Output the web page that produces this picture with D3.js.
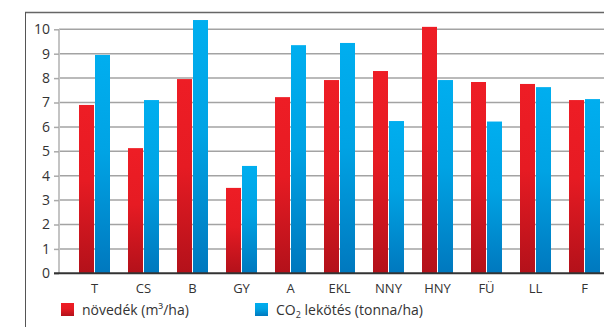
<!DOCTYPE html>
<html>
<head>
<meta charset="utf-8">
<script src="https://cdn.jsdelivr.net/npm/d3@7"></script>
<style>
  html, body { margin: 0; padding: 0; background: #fff; }
  svg { display: block; font-family: "Open Sans", "Noto Sans", sans-serif; }
</style>
</head>
<body>
<div id="chart"></div>
<script>
'use strict';

// ─── Data ────────────────────────────────────────────────────────────────────
const categories = ['T', 'CS', 'B', 'GY', 'A', 'EKL', 'NNY', 'HNY', 'FÜ', 'LL', 'F'];
const novedek    = [6.9, 5.13, 7.96, 3.5, 7.22, 7.92, 8.29, 10.1, 7.84, 7.76, 7.1];
const co2        = [8.95, 7.1, 10.38, 4.4, 9.35, 9.44, 6.24, 7.92, 6.22, 7.63, 7.14];
const yTicks     = [0, 1, 2, 3, 4, 5, 6, 7, 8, 9, 10];

// ─── Layout ──────────────────────────────────────────────────────────────────
const W = 604, H = 327;
const AXIS_X = 59;
const Y0 = 273.3, Y10 = 29.3;

const svg = d3.select('#chart').append('svg')
  .attr('width', W).attr('height', H);

const defs = svg.append('defs');
function grad(id, stops) {
  const g = defs.append('linearGradient').attr('id', id)
    .attr('x1', 0).attr('y1', 0).attr('x2', 0).attr('y2', 1);
  stops.forEach(([o, c]) => g.append('stop').attr('offset', o).attr('stop-color', c));
}
grad('gRed',  [[0, '#ee1d25'], [0.45, '#e61b23'], [1, '#b3111a']]);
grad('gBlue', [[0, '#00aeef'], [0.45, '#00a3e4'], [1, '#0078be']]);

// frame
svg.append('line').attr('x1', 25).attr('x2', W).attr('y1', 12.5).attr('y2', 12.5)
  .attr('stroke', '#666').attr('stroke-width', 1.6);
svg.append('line').attr('x1', 25.5).attr('x2', 25.5).attr('y1', 12).attr('y2', H)
  .attr('stroke', '#555').attr('stroke-width', 1);

// scales
const x = d3.scaleBand().domain(categories).range([70, 70 + 49 * categories.length]);
const y = d3.scaleLinear().domain([0, 10]).range([Y0, Y10]);

// grid lines
svg.append('g').selectAll('line').data(yTicks.filter(t => t > 0)).join('line')
  .attr('x1', AXIS_X).attr('x2', W)
  .attr('y1', d => y(d)).attr('y2', d => y(d))
  .attr('stroke', '#a3a3a3').attr('stroke-width', 1.5);

// y axis
const yAxis = svg.append('g').attr('transform', `translate(${AXIS_X},0)`)
  .call(d3.axisLeft(y).tickValues(yTicks).tickSize(5).tickPadding(4));
yAxis.select('.domain').attr('stroke', '#c4c4c4').attr('stroke-width', 2)
  .attr('d', `M0,${Y10}V${Y0}`);
yAxis.selectAll('.tick line').attr('stroke', '#aaa').attr('stroke-width', 1.5);
yAxis.selectAll('.tick text').attr('font-size', 14).attr('fill', '#333')
  .attr('font-family', '"Open Sans", "Noto Sans", sans-serif');

// bars
const BW = 15, GAP = 1;
const groups = svg.append('g').selectAll('g').data(categories).join('g')
  .attr('transform', d => `translate(${x(d) + x.bandwidth() / 2},0)`);
groups.append('rect')
  .attr('x', -BW - GAP / 2).attr('width', BW)
  .attr('y', (d, i) => y(novedek[i])).attr('height', (d, i) => Y0 - y(novedek[i]))
  .attr('fill', 'url(#gRed)');
groups.append('rect')
  .attr('x', GAP / 2).attr('width', BW)
  .attr('y', (d, i) => y(co2[i])).attr('height', (d, i) => Y0 - y(co2[i]))
  .attr('fill', 'url(#gBlue)');

// x axis
const xAxis = svg.append('g').attr('transform', `translate(0,${Y0})`)
  .call(d3.axisBottom(x).tickSize(0).tickPadding(10));
xAxis.select('.domain').attr('stroke', '#333').attr('stroke-width', 2)
  .attr('d', `M54,0H${W}`);
xAxis.selectAll('.tick text').attr('font-size', 13).attr('fill', '#333')
  .attr('font-family', '"Open Sans", "Noto Sans", sans-serif');

// legend
const legend = svg.append('g').attr('font-size', 14).attr('fill', '#333');
const l1 = legend.append('g').attr('transform', 'translate(61,303)');
l1.append('rect').attr('width', 13).attr('height', 13).attr('fill', 'url(#gRed)');
const t1 = l1.append('text').attr('x', 21).attr('y', 11.5);
t1.append('tspan').text('növedék (m³/ha)');

const l2 = legend.append('g').attr('transform', 'translate(255,303)');
l2.append('rect').attr('width', 13).attr('height', 13).attr('fill', 'url(#gBlue)');
const t2 = l2.append('text').attr('x', 21).attr('y', 11.5);
t2.append('tspan').text('CO');
t2.append('tspan').attr('font-size', 9).attr('dy', 3).text('2');
t2.append('tspan').attr('dy', -3).text(' lekötés (tonna/ha)');
</script>
</body>
</html>
